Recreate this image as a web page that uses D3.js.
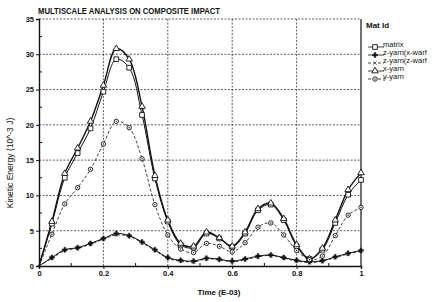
<!DOCTYPE html>
<html>
<head>
<meta charset="utf-8">
<script src="https://cdn.jsdelivr.net/npm/d3@7"></script>
<style>
  body { margin: 0; background: #fff; }
  text { font-family: "Liberation Sans", Arial, sans-serif; fill: #111; }
</style>
</head>
<body>
<svg id="chart" width="435" height="302"></svg>
<script>
// time steps (E-03)
var times = [0, 0.04, 0.08, 0.12, 0.16, 0.2, 0.24, 0.28, 0.32, 0.36, 0.4, 0.44, 0.48,
    0.52, 0.56, 0.6, 0.64, 0.68, 0.72, 0.76, 0.8, 0.84, 0.88, 0.92, 0.96, 1.0];

var matrix = [0, 6.0, 12.5, 16.0, 19.5, 24.7, 29.3, 28.1, 21.4, 12.4, 6.3, 3.0, 2.6,
    4.6, 3.9, 2.7, 4.6, 7.9, 8.7, 6.5, 2.8, 1.0, 2.3, 6.1, 10.1, 12.2];
var zYarnXWarf = [0, 1.2, 2.3, 2.6, 3.2, 3.9, 4.6, 4.3, 3.4, 2.3, 1.2, 0.8, 0.7,
    1.1, 0.95, 0.7, 1.0, 1.4, 1.55, 1.2, 0.8, 0.6, 0.75, 1.3, 1.8, 2.2];
var zYarnZWarf = [0, 1.1, 2.2, 2.5, 3.1, 3.8, 4.4, 4.2, 3.3, 2.2, 1.1, 0.7, 0.6,
    1.0, 0.9, 0.6, 0.9, 1.3, 1.5, 1.1, 0.7, 0.5, 0.7, 1.2, 1.7, 2.1];
var xYarn = [0, 6.3, 13.1, 16.7, 20.5, 25.6, 30.8, 29.3, 22.6, 12.8, 6.5, 3.2, 2.8,
    4.8, 4.0, 2.8, 4.8, 8.1, 8.9, 6.7, 3.0, 1.0, 2.5, 6.5, 10.8, 13.2];
var yYarn = [0, 4.5, 8.8, 11.1, 13.7, 17.3, 20.5, 19.6, 15.2, 8.7, 4.4, 2.4, 1.9,
    3.2, 2.8, 2.0, 3.3, 5.5, 6.1, 4.4, 2.2, 0.9, 1.4, 4.3, 7.2, 8.3];

var seriesNames = ["matrix", "z-yarn(x-warf", "z-yarn(z-warf", "x-yarn", "y-yarn"];
var xTicks = [0, 0.2, 0.4, 0.6, 0.8, 1];
var yTicks = [0, 5, 10, 15, 20, 25, 30, 35];

var series = [
    { name: seriesNames[0], values: matrix, symbol: "square", dash: null, width: 1 },
    { name: seriesNames[1], values: zYarnXWarf, symbol: "plus", dash: null, width: 1 },
    { name: seriesNames[2], values: zYarnZWarf, symbol: "cross", dash: "3,2", width: 0.9 },
    { name: seriesNames[3], values: xYarn, symbol: "triangle", dash: null, width: 1.4 },
    { name: seriesNames[4], values: yYarn, symbol: "circle", dash: "3,2", width: 0.8 }
];

var svg = d3.select("#chart");
var plotLeft = 39, plotRight = 361, plotTop = 19, plotBottom = 266;

var xScale = d3.scaleLinear().domain([0, 1]).range([plotLeft, plotRight]);
var yScale = d3.scaleLinear().domain([0, 35]).range([plotBottom, plotTop]);

// grid
var grid = svg.append("g");
grid.selectAll(".hg")
    .data(yTicks.slice(1))
    .enter()
    .append("line")
    .attr("x1", plotLeft).attr("x2", plotRight)
    .attr("y1", d => yScale(d)).attr("y2", d => yScale(d))
    .attr("stroke", "#333")
    .attr("stroke-width", 0.8)
    .attr("stroke-dasharray", "2,1.5");
grid.selectAll(".vg")
    .data(xTicks.slice(1, -1))
    .enter()
    .append("line")
    .attr("x1", d => xScale(d)).attr("x2", d => xScale(d))
    .attr("y1", plotTop).attr("y2", plotBottom)
    .attr("stroke", "#333")
    .attr("stroke-width", 0.8)
    .attr("stroke-dasharray", "2,1.5");

// frame
svg.append("line").attr("x1", plotRight).attr("x2", plotRight)
    .attr("y1", plotTop).attr("y2", plotBottom)
    .attr("stroke", "#111").attr("stroke-width", 1.2);

// axes
var xAxis = svg.append("g")
    .attr("transform", "translate(0," + plotBottom + ")")
    .call(d3.axisBottom(xScale).tickValues(xTicks).tickSize(3).tickPadding(2)
        .tickFormat(d3.format("")));
var yAxis = svg.append("g")
    .attr("transform", "translate(" + plotLeft + ",0)")
    .call(d3.axisLeft(yScale).tickValues(yTicks).tickSize(3).tickPadding(2));
[xAxis, yAxis].forEach(function (ax) {
    ax.select(".domain").attr("stroke", "#111").attr("stroke-width", 1.4);
    ax.selectAll(".tick line").attr("stroke", "#111");
    ax.selectAll("text")
        .style("font-family", "'Liberation Sans', Arial, sans-serif")
        .style("font-size", "7.5px")
        .style("font-weight", "bold")
        .attr("fill", "#111");
});

// minor ticks inside
svg.append("g").selectAll("line")
    .data(d3.range(2.5, 35, 5))
    .enter()
    .append("line")
    .attr("x1", plotLeft).attr("x2", plotLeft + 3)
    .attr("y1", d => yScale(d)).attr("y2", d => yScale(d))
    .attr("stroke", "#111");
svg.append("g").selectAll("line")
    .data(d3.range(0.1, 1, 0.2))
    .enter()
    .append("line")
    .attr("x1", d => xScale(d)).attr("x2", d => xScale(d))
    .attr("y1", plotBottom).attr("y2", plotBottom - 3)
    .attr("stroke", "#111");

// lines
var line = d3.line()
    .x(function (d, i) { return xScale(times[i]); })
    .y(function (d) { return yScale(d); })
    .curve(d3.curveCatmullRom.alpha(0.5));

var symbolTypes = {
    square: d3.symbolSquare,
    plus: d3.symbolCross,
    cross: d3.symbolX,
    triangle: d3.symbolTriangle,
    circle: d3.symbolCircle
};
var symbolSizes = { square: 22, plus: 14, cross: 12, triangle: 18, circle: 15 };

function drawMarker(g, s, x, y) {
    var filled = s.symbol === "plus" || s.symbol === "cross";
    g.append("path")
        .attr("transform", "translate(" + x + "," + y + ")")
        .attr("d", d3.symbol().type(symbolTypes[s.symbol]).size(symbolSizes[s.symbol])())
        .attr("fill", filled ? "#111" : "#fff")
        .attr("stroke", "#111")
        .attr("stroke-width", filled ? 0.4 : 0.9);
    if (s.symbol === "circle") {
        g.append("circle").attr("cx", x).attr("cy", y).attr("r", 0.7).attr("fill", "#111");
    }
}

var plot = svg.append("g");
series.forEach(function (s) {
    plot.append("path")
        .datum(s.values)
        .attr("fill", "none")
        .attr("stroke", "#111")
        .attr("stroke-width", s.width)
        .attr("stroke-dasharray", s.dash)
        .attr("d", line);
});
series.forEach(function (s) {
    s.values.forEach(function (v, i) {
        if (i === 0) return;
        drawMarker(plot, s, xScale(times[i]), yScale(v));
    });
});

// title
svg.append("text")
    .attr("x", 38).attr("y", 14)
    .attr("textLength", 182)
    .attr("lengthAdjust", "spacingAndGlyphs")
    .style("font-size", "9px")
    .style("font-weight", "bold")
    .text("MULTISCALE ANALYSIS ON COMPOSITE IMPACT");

// axis labels
svg.append("text")
    .attr("x", 219).attr("y", 295)
    .attr("text-anchor", "middle")
    .style("font-size", "8px")
    .style("font-weight", "bold")
    .text("Time (E-03)");
svg.append("text")
    .attr("transform", "translate(13,163) rotate(-90)")
    .attr("text-anchor", "middle")
    .style("font-size", "8.5px")
    .text("Kinetic Energy (10^-3 J)");

// legend
var legend = svg.append("g");
legend.append("text")
    .attr("x", 366).attr("y", 28)
    .style("font-size", "8px")
    .style("font-weight", "bold")
    .text("Mat Id");
var legY = [46, 54, 62, 70, 78];
series.forEach(function (s, i) {
    var y = legY[i];
    legend.append("line")
        .attr("x1", 368).attr("x2", 384)
        .attr("y1", y + 1).attr("y2", y + 1)
        .attr("stroke", "#111")
        .attr("stroke-width", 0.8)
        .attr("stroke-dasharray", s.dash);
    drawMarker(legend, s, 375, y + 1);
    legend.append("text")
        .attr("x", 383).attr("y", y + 1)
        .style("font-size", "7.5px")
        .text(s.name);
});
</script>
</body>
</html>
